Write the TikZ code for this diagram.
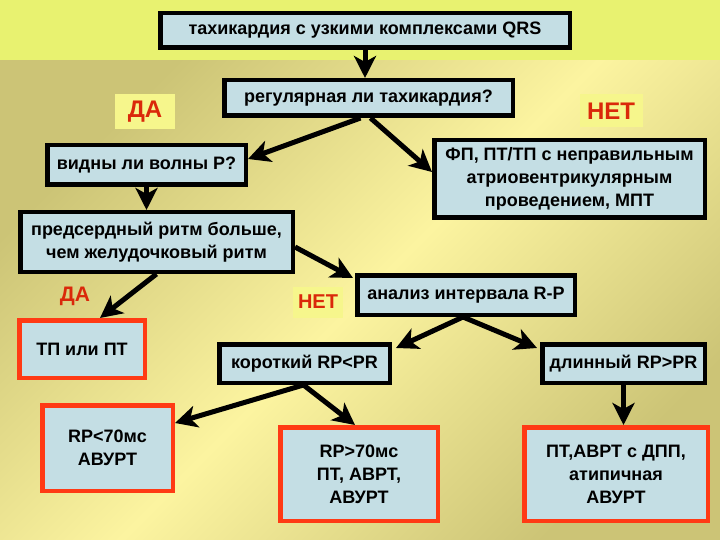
\documentclass[tikz,border=0pt]{standalone}
\usepackage{fontspec}
\setmainfont{Liberation Sans}
\usetikzlibrary{arrows.meta,calc}
\definecolor{boxblue}{RGB}{196,222,228}
\definecolor{boxred}{RGB}{255,58,20}
\definecolor{tagred}{RGB}{218,40,10}
\definecolor{tagbg}{RGB}{246,246,140}
\definecolor{bandyel}{RGB}{232,242,112}
\definecolor{palebg}{RGB}{252,244,160}
\definecolor{khaki}{RGB}{204,196,118}

\begin{document}
\begin{tikzpicture}[x=1pt, y=-1pt,
  every node/.style={font=\bfseries\fontsize{18}{23}\selectfont, align=center, inner sep=0pt},
  bbox/.style={draw=black, line width=4.5pt, fill=boxblue},
  rbox/.style={bbox, draw=boxred},
  tag/.style={text=tagred, font=\bfseries\fontsize{24}{24}\selectfont},
  link/.style={line width=5pt, -{Stealth[length=22pt, width=22pt, inset=6pt]}}]
  \useasboundingbox (0,0) rectangle (720,540);

  % Background
  \shade[top color=khaki, bottom color=khaki, middle color=palebg, shading angle=45] (0,60) rectangle (720,540);
  \fill[bandyel] (0,0) rectangle (720,60);

  % Questions
  \node[bbox, minimum width=409.5pt, minimum height=34.5pt] (tach) at (365,30.5) {тахикардия с узкими комплексами QRS};
  \node[bbox, minimum width=288.5pt, minimum height=35.5pt] (reg) at (368.5,98) {регулярная ли тахикардия?};
  \node[bbox, minimum width=198.5pt, minimum height=39.5pt] (vid) at (146.5,165) {видны ли волны P?};
  \node[bbox, minimum width=270.5pt, minimum height=77.5pt] (fp) at (569.5,179)
    {ФП, ПТ/ТП с неправильным\\атриовентрикулярным\\проведением, МПТ};
  \node[bbox, minimum width=272.5pt, minimum height=59.5pt] (pred) at (156.5,242)
    {предсердный ритм больше,\\чем желудочковый ритм};
  \node[bbox, minimum width=217.5pt, minimum height=39.5pt] (anal) at (466,295) {анализ интервала R-P};
  \node[bbox, minimum width=170.5pt, minimum height=38.5pt] (korot) at (304.5,363.5) {короткий RP<PR};
  \node[bbox, minimum width=162.5pt, minimum height=38.5pt] (dlin) at (623.5,363.5) {длинный RP>PR};

  % Answers
  \node[tag, fill=tagbg, minimum width=60pt, minimum height=35pt] (yes1) at (145,112) {ДА};
  \node[tag, fill=tagbg, minimum width=63pt, minimum height=33pt] (no1) at (611,111) {НЕТ};
  \node[tag, font=\bfseries\fontsize{21}{21}\selectfont] (yes2) at (75,296) {ДА};
  \node[tag, fill=tagbg, minimum width=50pt, minimum height=31pt, font=\bfseries\fontsize{20}{20}\selectfont] (no2) at (318,302) {НЕТ};

  % Results
  \node[rbox, minimum width=125.5pt, minimum height=57.5pt] (tp) at (82,349) {ТП или ПТ};
  \node[rbox, minimum width=130.5pt, minimum height=85.5pt] (rpa) at (107.5,448) {RP<70мс\\АВУРТ};
  \node[rbox, minimum width=157.5pt, minimum height=93.5pt] (rpb) at (359,474) {RP>70мс\\ПТ, АВРТ,\\АВУРТ};
  \node[rbox, minimum width=183.5pt, minimum height=93.5pt] (pt) at (616,474) {ПТ,АВРТ с ДПП,\\атипичная\\АВУРТ};

  % Arrows
  \draw[link] (tach.south) -- (tach.south |- reg.north);
  \draw[link] ($(reg.south)+(-8,0)$) -- ($(vid.east)+(0,-6)$);
  \draw[link] ($(reg.south)+(2,0)$) -- ($(fp.west)+(0,-7)$);
  \draw[link] (vid.south) -- (vid.south |- pred.north);
  \draw[link] (pred.south) -- ($(tp.north)+(18,0)$);
  \draw[link] ($(pred.east)+(0,5)$) -- ($(anal.north west)+(-2,5)$);
  \draw[link] ($(anal.south)+(-3,0)$) -- ($(korot.north east)+(4,6)$);
  \draw[link] ($(anal.south)+(-3,0)$) -- ($(dlin.north west)+(-3,6)$);
  \draw[link] ($(korot.south)+(-1,0)$) -- ($(rpa.east)+(0,-25)$);
  \draw[link] ($(korot.south)+(-1,0)$) -- ($(rpb.north)+(-4,0)$);
  \draw[link] (dlin.south) -- (dlin.south |- pt.north);
\end{tikzpicture}
\end{document}
